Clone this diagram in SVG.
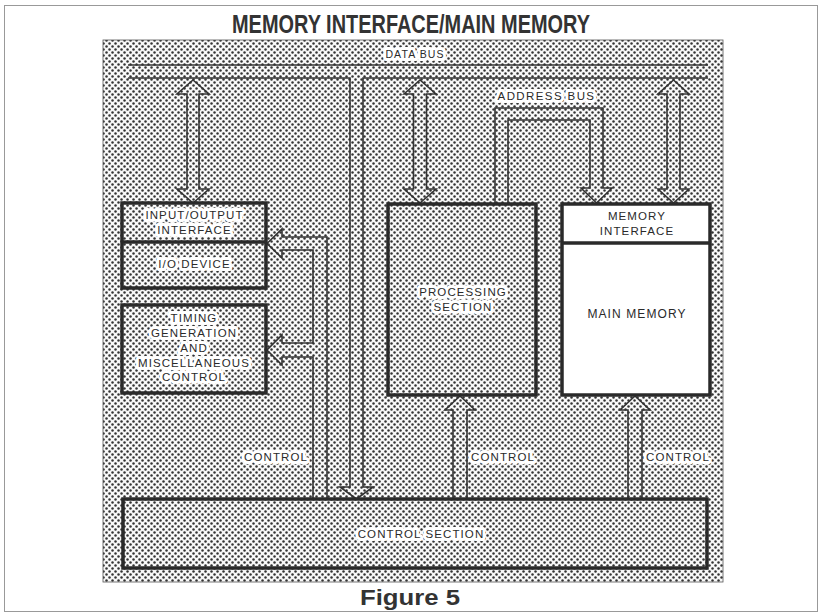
<svg xmlns="http://www.w3.org/2000/svg" width="822" height="615" viewBox="0 0 822 615">
<defs>
<pattern id="stip" width="6" height="6" patternUnits="userSpaceOnUse">
<rect width="6" height="6" fill="#f8f8f8"/>
<circle cx="1.5" cy="1.5" r="1.25" fill="#333"/>
<circle cx="4.5" cy="4.5" r="1.25" fill="#333"/>
</pattern>
<style>
.box{fill:url(#stip);stroke:#2a2a2a;stroke-width:3.5}
.wbox{fill:#fff;stroke:#2a2a2a;stroke-width:3.5}
.div{stroke:#2a2a2a;stroke-width:3.5;fill:none}
.ln{fill:none;stroke:#333;stroke-width:1.6;stroke-linejoin:miter}
.lbl{font-family:"Liberation Sans",Arial,sans-serif;font-size:11.5px;letter-spacing:1.1px;fill:#2a2a2a;text-anchor:middle;paint-order:stroke;stroke:#fff;stroke-width:6px;stroke-linejoin:round}
.lblw{font-family:"Liberation Sans",Arial,sans-serif;font-size:11.5px;letter-spacing:1.1px;fill:#2a2a2a;text-anchor:middle}
.title{font-family:"Liberation Sans",Arial,sans-serif;font-weight:bold;fill:#333;text-anchor:middle}
</style>
</defs>
<rect x="0" y="0" width="822" height="615" fill="#fff"/>
<rect x="4.5" y="5.5" width="813" height="606" fill="none" stroke="#999" stroke-width="1"/>
<text class="title" x="411" y="33" font-size="25" textLength="358" lengthAdjust="spacingAndGlyphs">MEMORY INTERFACE/MAIN MEMORY</text>
<rect x="103" y="40" width="620" height="542" fill="url(#stip)" stroke="#555" stroke-width="0.8"/>

<g id="connectors">
<path class="ln" d="M128,65 L708,65"/>
<path class="ln" d="M128,78 L350,78 L350,487 L340,487 L356.5,499 L373,487 L363,487 L363,78 L708,78"/>
<path class="ln" d="M193,80 L209,94 L199,94 L199,189 L209,189 L193,203 L177,189 L187,189 L187,94 L177,94 Z"/>
<path class="ln" d="M420,80 L436,94 L426.5,94 L426.5,189 L436,189 L420,203 L404,189 L413.5,189 L413.5,94 L404,94 Z"/>
<path class="ln" d="M673.5,80 L689,94 L680,94 L680,189 L689,189 L673.5,203 L658,189 L667,189 L667,94 L658,94 Z"/>
<path class="ln" d="M495,204 L495,108 L603,108 L603,188 L612,188 L596.5,203 L581,188 L590,188 L590,120 L508,120 L508,204"/>
<path class="ln" d="M453,499 L453,410 L445,410 L460,396 L475,410 L467,410 L467,499"/>
<path class="ln" d="M628,499 L628,410 L620,410 L635,396 L650,410 L642,410 L642,499"/>
<path class="ln" d="M327,499 L327,237 L282,237 L282,229 L267,243.5 L282,258 L282,250 L313,250 L313,343 L282,343 L282,335 L267,350 L282,365 L282,357 L313,357 L313,499"/>
<text class="lbl" x="415" y="58" style="font-size:10.5px">DATA BUS</text>
<text class="lbl" x="546.5" y="100" style="letter-spacing:1.4px">ADDRESS BUS</text>
<text class="lbl" x="276" y="461">CONTROL</text>
<text class="lbl" x="503" y="461">CONTROL</text>
<text class="lbl" x="678" y="461">CONTROL</text>
</g>

<g id="io">
<rect class="box" x="122" y="203" width="144" height="85"/>
<line class="div" x1="122" y1="242" x2="266" y2="242"/>
<text class="lbl" x="194.5" y="219">INPUT/OUTPUT</text>
<text class="lbl" x="194.5" y="234">INTERFACE</text>
<text class="lbl" x="194.5" y="268">I/O DEVICE</text>
</g>

<g id="timing">
<rect class="box" x="122" y="305" width="144" height="88"/>
<text class="lbl" x="194" y="322">TIMING</text>
<text class="lbl" x="194" y="337">GENERATION</text>
<text class="lbl" x="194" y="352">AND</text>
<text class="lbl" x="194" y="367">MISCELLANEOUS</text>
<text class="lbl" x="194" y="381">CONTROL</text>
</g>

<g id="processing">
<rect class="box" x="388" y="204" width="148" height="191"/>
<text class="lbl" x="463" y="296">PROCESSING</text>
<text class="lbl" x="463" y="311">SECTION</text>
</g>

<g id="memory">
<rect class="wbox" x="562" y="204" width="148" height="191"/>
<line class="div" x1="562" y1="243" x2="710" y2="243"/>
<text class="lblw" x="637" y="220">MEMORY</text>
<text class="lblw" x="637" y="235">INTERFACE</text>
<text class="lblw" x="637" y="318" style="font-size:12px">MAIN MEMORY</text>
</g>

<g id="control">
<rect class="box" x="123" y="499" width="584" height="69"/>
<text class="lbl" x="421" y="538">CONTROL SECTION</text>
</g>

<text class="title" x="410" y="605" font-size="22" textLength="100" lengthAdjust="spacingAndGlyphs">Figure 5</text>
</svg>
